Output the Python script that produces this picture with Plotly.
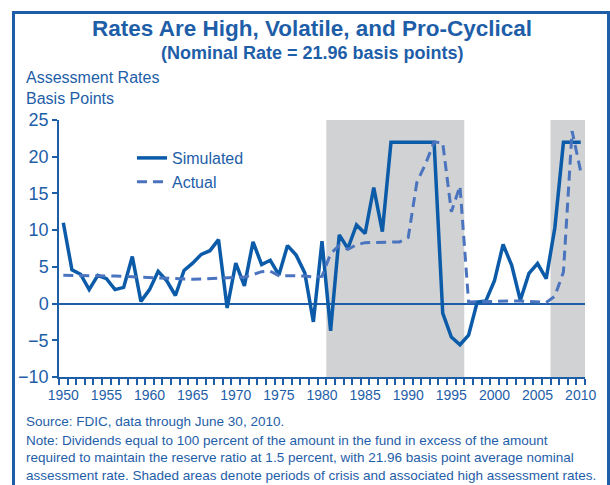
import plotly.graph_objects as go

years = list(range(1950, 2011))

simulated = [11.0, 4.6, 4.0, 1.9, 3.85, 3.4, 1.9, 2.2, 6.4, 0.3,
             1.9, 4.4, 3.1, 1.1, 4.5, 5.5, 6.7, 7.2, 8.7, -0.6,
             5.5, 2.4, 8.4, 5.3, 5.9, 3.9, 7.9, 6.6, 4.2, -2.5,
             8.5, -3.7, 9.35, 7.5, 10.7, 9.55, 15.8, 9.8, 21.96, 21.96,
             21.96, 21.96, 21.96, 21.96, -1.3, -4.55, -5.6, -4.3, 0.2, 0.35,
             3.1, 8.05, 5.2, 0.45, 4.1, 5.45, 3.4, 10.3, 21.96, 21.96,
             21.96]

actual = [3.85, 3.85, 3.85, 3.8, 3.8, 3.8, 3.75, 3.7, 3.65, 3.55,
          3.5, 3.4, 3.35, 3.3, 3.3, 3.3, 3.35, 3.4, 3.45, 3.5,
          3.55, 3.6, 3.95, 4.35, 4.4, 3.8, 3.8, 3.8, 3.75, 3.6,
          3.7, 6.8, 7.9, 7.4, 8.0, 8.3, 8.3, 8.3, 8.3, 8.4,
          9.0, 16.5, 19.0, 22.0, 21.9, 12.5, 16.0, 0.2, 0.25, 0.3,
          0.35, 0.35, 0.35, 0.35, 0.3, 0.2, 0.15, 1.0, 4.3, 23.5,
          18.0]

crisis_periods = [(1980.5, 1996.5), (2006.5, 2010.5)]

x_tick_years = list(range(1950, 2011, 5))
y_ticks = [-10, -5, 0, 5, 10, 15, 20, 25]

BLUE = "#1E5EA8"
SIM = "#0B5BA9"
ACT = "#4B74BE"
GRAY = "#D1D2D4"
FONT = "Liberation Sans, Arial, Helvetica, sans-serif"

fig = go.Figure()
fig.add_trace(go.Scatter(x=years, y=simulated, mode="lines", name="Simulated",
                         line=dict(color=SIM, width=3.5)))
fig.add_trace(go.Scatter(x=years, y=actual, mode="lines", name="Actual",
                         line=dict(color=ACT, width=3, dash="10px,6px")))

for x0, x1 in crisis_periods:
    fig.add_shape(type="rect", xref="x", yref="paper", x0=x0, x1=x1, y0=0, y1=1,
                  fillcolor=GRAY, line=dict(width=0), layer="below")

W, H = 610, 485
L, R, T, B = 59, 25, 120, 108
pw, ph = W - L - R, H - T - B


def px(x):
    return (x - L) / pw


def py(y):
    return (H - B - y) / ph


# outer frame
fig.add_shape(type="rect", xref="paper", yref="paper",
              x0=px(13.5), x1=px(608.5), y0=py(495), y1=py(12.5),
              line=dict(color=BLUE, width=3), fillcolor="rgba(0,0,0,0)")

ann = []
ann.append(dict(text="<b>Rates Are High, Volatile, and Pro-Cyclical</b>", x=px(312), y=py(29),
                xref="paper", yref="paper", showarrow=False, xanchor="center", yanchor="middle",
                font=dict(size=22.5, color=BLUE, family=FONT)))
ann.append(dict(text="<b>(Nominal Rate = 21.96 basis points)</b>", x=px(312), y=py(53),
                xref="paper", yref="paper", showarrow=False, xanchor="center", yanchor="middle",
                font=dict(size=18, color=BLUE, family=FONT)))
ann.append(dict(text="Assessment Rates", x=px(24), y=py(78),
                xref="paper", yref="paper", showarrow=False, xanchor="left", yanchor="middle",
                font=dict(size=16, color=BLUE, family=FONT)))
ann.append(dict(text="Basis Points", x=px(24), y=py(98),
                xref="paper", yref="paper", showarrow=False, xanchor="left", yanchor="middle",
                font=dict(size=16, color=BLUE, family=FONT)))
notes = [
    ("Source: FDIC, data through June 30, 2010.", 421),
    ("Note: Dividends equal to 100 percent of the amount in the fund in excess of the amount", 440),
    ("required to maintain the reserve ratio at 1.5 percent, with 21.96 basis point average nominal", 457),
    ("assessment rate. Shaded areas denote periods of crisis and associated high assessment rates.", 475),
]
for t, yy in notes:
    ann.append(dict(text=t, x=px(24), y=py(yy), xref="paper", yref="paper", showarrow=False,
                    xanchor="left", yanchor="middle",
                    font=dict(size=13.5, color=BLUE, family=FONT)))

fig.update_layout(
    width=W, height=H,
    margin=dict(l=L, r=R, t=T, b=B, autoexpand=False),
    paper_bgcolor="white", plot_bgcolor="white",
    font=dict(family=FONT, color=BLUE, size=16),
    annotations=ann,
    showlegend=True,
    legend=dict(x=px(132), y=py(141), xanchor="left", yanchor="top",
                bgcolor="rgba(0,0,0,0)", font=dict(size=16, color=BLUE, family=FONT),
                tracegroupgap=0),
)

fig.update_xaxes(range=[1949.5, 2010.5], showgrid=False, zeroline=False,
                 showline=True, linecolor=BLUE, linewidth=1.5,
                 tickmode="array", tickvals=x_tick_years, ticks="",
                 ticklabelstandoff=4,
                 tickfont=dict(size=14, color=BLUE, family=FONT),
                 minor=dict(ticks="outside", ticklen=6, tickwidth=1.5, tickcolor=BLUE,
                            tick0=1949.5, dtick=1, showgrid=False))
fig.update_yaxes(range=[-10, 25], showgrid=False, zeroline=True, zerolinecolor=BLUE,
                 zerolinewidth=1.5, showline=True, linecolor=BLUE, linewidth=1.5,
                 tickmode="array", tickvals=y_ticks, ticks="outside", ticklen=5,
                 tickwidth=1.5, tickcolor=BLUE,
                 tickfont=dict(size=18, color=BLUE, family=FONT))

fig.write_html("out.html", config={"displayModeBar": False},
               post_script="document.body.style.margin='0px';")
